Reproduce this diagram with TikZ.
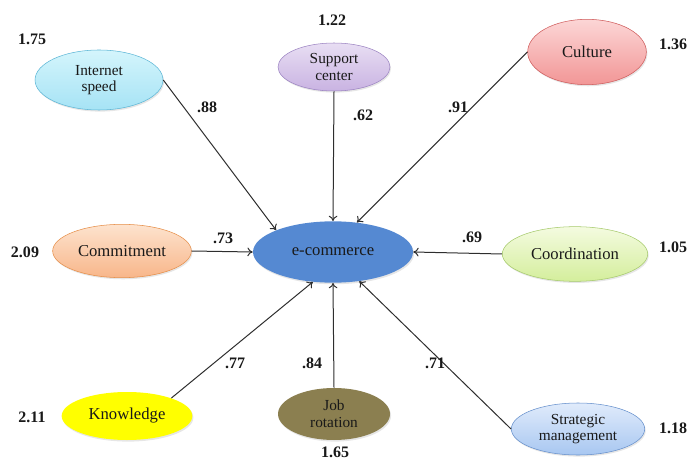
\documentclass[tikz,border=0pt]{standalone}
\usepackage{fontspec}
\setmainfont{Liberation Serif}
\usetikzlibrary{shapes.geometric,shadows,arrows.meta}

\definecolor{speedtop}{HTML}{D4F5FC}
\definecolor{speedbot}{HTML}{A6E3F5}
\definecolor{speedline}{HTML}{5DB6D6}
\definecolor{supporttop}{HTML}{E8DEF3}
\definecolor{supportbot}{HTML}{C9B3E2}
\definecolor{supportline}{HTML}{9C84C2}
\definecolor{culturetop}{HTML}{FCD6D6}
\definecolor{culturebot}{HTML}{F29696}
\definecolor{cultureline}{HTML}{CF5A5A}
\definecolor{committop}{HTML}{FDE3CE}
\definecolor{commitbot}{HTML}{F8B68A}
\definecolor{commitline}{HTML}{E68E48}
\definecolor{coordtop}{HTML}{F4FBE0}
\definecolor{coordbot}{HTML}{D4EE9C}
\definecolor{coordline}{HTML}{A6CA6C}
\definecolor{strattop}{HTML}{E0EBFB}
\definecolor{stratbot}{HTML}{A8C7F1}
\definecolor{stratline}{HTML}{6690CC}
\definecolor{ecomblue}{HTML}{5589D2}
\definecolor{knowyellow}{HTML}{FFFF00}
\definecolor{jobolive}{HTML}{8B7F50}
\definecolor{linkgray}{HTML}{2E2E2E}

\tikzset{
    latent/.style={ellipse, inner sep=0pt, align=center, text=black!90,
        font=\fontsize{12.5}{12}\selectfont,
        drop shadow={opacity=0.2, shadow xshift=0.8pt, shadow yshift=-1.2pt}},
    twoline/.style={font=\fontsize{11.5}{12.5}\selectfont},
    coef/.style={font=\bfseries\fontsize{12}{14}\selectfont, text=black!90},
    link/.style={draw=linkgray, line width=0.75pt, -{To[length=4pt, width=6.5pt]}}
}

\begin{document}
\begin{tikzpicture}[x=0.75pt, y=-0.75pt]
        \useasboundingbox (0,0) rectangle (691,459);

        % Latent variables
        \node[latent, twoline, minimum width=96pt, minimum height=45pt, draw=speedline, top color=speedtop, bottom color=speedbot] (speed) at (99,80) {Internet\\speed};
        \node[latent, twoline, minimum width=84pt, minimum height=36pt, draw=supportline, top color=supporttop, bottom color=supportbot] (support) at (334,67) {Support\\center};
        \node[latent, minimum width=89pt, minimum height=49pt, draw=cultureline, top color=culturetop, bottom color=culturebot] (culture) at (587,52) {Culture};
        \node[latent, minimum width=104pt, minimum height=40pt, draw=commitline, top color=committop, bottom color=commitbot] (commit) at (122,251) {Commitment};
        \node[latent, minimum width=120pt, minimum height=46pt, fill=ecomblue] (ecom) at (333,252) {e-commerce};
        \node[latent, minimum width=109pt, minimum height=41pt, draw=coordline, top color=coordtop, bottom color=coordbot] (coord) at (575,254) {Coordination};
        \node[latent, minimum width=98pt, minimum height=36pt, fill=knowyellow] (know) at (127,416) {Knowledge};
        \node[latent, twoline, minimum width=84pt, minimum height=39pt, fill=jobolive] (job) at (334,414) {Job\\rotation};
        \node[latent, twoline, minimum width=100pt, minimum height=39pt, draw=stratline, top color=strattop, bottom color=stratbot] (strat) at (578,429) {Strategic\\management};

        % Paths to e-commerce
        \draw[link] (speed.east) -- (ecom.159);
        \draw[link] (support.south) -- (ecom.north);
        \draw[link] (culture.west) -- (ecom.51);
        \draw[link] (commit.east) -- (ecom.west);
        \draw[link] (coord.west) -- (ecom.east);
        \draw[link] (know.22) -- (ecom.236);
        \draw[link] (job.north) -- (ecom.south);
        \draw[link] (strat.west) -- (ecom.312);

        % Path coefficients
        \node[coef] (c-speed) at (207,107) {.88};
        \node[coef] (c-support) at (363,115) {.62};
        \node[coef] (c-culture) at (458,107) {.91};
        \node[coef] (c-commit) at (223,238) {.73};
        \node[coef] (c-coord) at (472,237) {.69};
        \node[coef] (c-know) at (235,363) {.77};
        \node[coef] (c-job) at (312,363) {.84};
        \node[coef] (c-strat) at (435,363) {.71};

        % Error variances
        \node[coef] (e-speed) at (32,39) {1.75};
        \node[coef] (e-support) at (332,20) {1.22};
        \node[coef] (e-culture) at (673,44) {1.36};
        \node[coef] (e-commit) at (25,252) {2.09};
        \node[coef] (e-coord) at (673,247) {1.05};
        \node[coef] (e-know) at (32,417) {2.11};
        \node[coef] (e-job) at (335,452) {1.65};
        \node[coef] (e-strat) at (673,428) {1.18};

    \end{tikzpicture}
\end{document}
